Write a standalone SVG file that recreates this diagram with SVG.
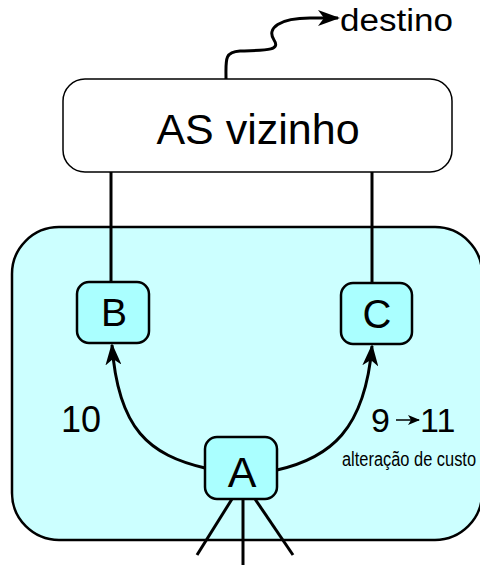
<svg xmlns="http://www.w3.org/2000/svg" width="480" height="565" viewBox="0 0 480 565">
  <style>
    .lbl { font-family: "Liberation Sans", Arial, sans-serif; fill: #000; }
    .node rect { fill: #aaffff; stroke: #000; stroke-width: 2.5; }
    .wire { fill: none; stroke: #000; stroke-width: 3; }
  </style>
  <defs>
    <marker id="head" viewBox="0 0 22 16" refX="20" refY="8" markerWidth="22" markerHeight="16" markerUnits="userSpaceOnUse" orient="auto">
      <path d="M0,0 L22,8 L0,16 L6,8 Z" fill="#000"/>
    </marker>
    <marker id="small" viewBox="0 0 12 10" refX="11" refY="5" markerWidth="12" markerHeight="10" markerUnits="userSpaceOnUse" orient="auto">
      <path d="M0,0 L12,5 L0,10 L3,5 Z" fill="#000"/>
    </marker>
  </defs>

  <!-- Autonomous system region -->
  <g id="region">
    <rect x="12" y="227" width="470" height="313" rx="47" fill="#ccffff" stroke="#000" stroke-width="2.5"/>
  </g>

  <!-- Neighbouring AS -->
  <g id="as-vizinho">
    <rect x="63" y="79" width="389" height="93" rx="22" fill="#fff" stroke="#000" stroke-width="1.5"/>
    <text class="lbl" x="258" y="144" font-size="43" text-anchor="middle">AS vizinho</text>
  </g>

  <g id="connectors">
    <path class="wire" d="M111,172 V282"/>
    <path class="wire" d="M372,172 V283"/>
    <path class="wire" d="M205,468 C150,455 118,430 112,345" marker-end="url(#head)"/>
    <path class="wire" d="M277,470 C330,458 365,430 372,346" marker-end="url(#head)"/>
    <path class="wire" d="M226,79 C226,60 224,52 240,51 C260,50 282,52 274,40 C266,28 280,18 310,18 L338,18" marker-end="url(#head)"/>
    <path class="wire" d="M232,499 L197,555"/>
    <path class="wire" d="M243,499 V565"/>
    <path class="wire" d="M255,499 L293,555"/>
    <path d="M396,420 H419" fill="none" stroke="#000" stroke-width="1.5" marker-end="url(#small)"/>
  </g>

  <g id="node-B" class="node">
    <rect x="77" y="282" width="72" height="61" rx="12"/>
    <text class="lbl" x="114" y="326" font-size="39" text-anchor="middle">B</text>
  </g>
  <g id="node-C" class="node">
    <rect x="341" y="283" width="71" height="61" rx="12"/>
    <text class="lbl" x="377" y="328" font-size="40" text-anchor="middle">C</text>
  </g>
  <g id="node-A" class="node">
    <rect x="205" y="437" width="72" height="62" rx="12"/>
    <text class="lbl" x="242" y="487" font-size="43" text-anchor="middle">A</text>
  </g>

  <text class="lbl" x="81" y="432" font-size="36" text-anchor="middle">10</text>
  <text class="lbl" x="371" y="432" font-size="34">9</text>
  <text class="lbl" x="420" y="432" font-size="34">11</text>
  <text class="lbl" x="342" y="466" font-size="20" textLength="134" lengthAdjust="spacingAndGlyphs">alteração de custo</text>
  <text class="lbl" x="340" y="31" font-size="31" textLength="113" lengthAdjust="spacingAndGlyphs">destino</text>
</svg>
